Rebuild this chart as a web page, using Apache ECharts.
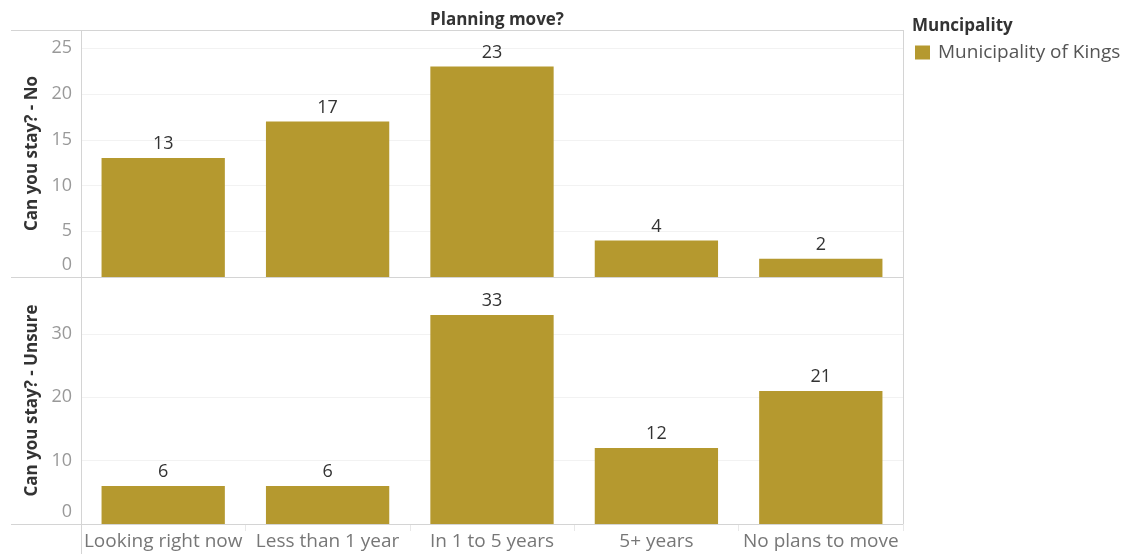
<!DOCTYPE html>
<html>
<head>
<meta charset="utf-8">
<script src="https://cdn.jsdelivr.net/npm/echarts@6/dist/echarts.min.js"></script>
<style>
html,body{margin:0;padding:0;background:#fff;}
#chart{width:1130px;height:554px;}
</style>
</head>
<body>
<div id="chart"></div>
<script>
var categories = ["Looking right now", "Less than 1 year", "In 1 to 5 years", "5+ years", "No plans to move"];
var valuesNo = [13, 17, 23, 4, 2];
var valuesUnsure = [6, 6, 33, 12, 21];
var rowNames = ["Can you stay? - No", "Can you stay? - Unsure"];
var seriesName = "Municipality of Kings";
var legendTitle = "Muncipality";
var chartTitle = "Planning move?";

var FONT = "'Open Sans', 'Noto Sans', sans-serif";
var BAR = "#b5992f";
var L = 81, R = 903, T = 30, MID = 277, B = 524;

var chart = echarts.init(document.getElementById('chart'), null, {renderer: 'canvas'});

function yAxis(idx, max, interval, name) {
  return {
    type: 'value', gridIndex: idx, min: 0, max: max, interval: interval,
    name: name, nameLocation: 'middle', nameGap: 40,
    nameTextStyle: {fontFamily: FONT, fontWeight: 'bold', fontSize: 17, color: '#333'},
    axisLine: {show: false}, axisTick: {show: false},
    axisLabel: {
      fontFamily: FONT, fontSize: 18, color: '#999', margin: 9, showMaxLabel: false,
      formatter: function (v) { return v === 0 ? '{z|0}' : String(v); },
      rich: {z: {fontFamily: FONT, fontSize: 18, color: '#999', padding: [0, 0, 24, 0]}}
    },
    splitLine: {show: true, lineStyle: {color: '#f2f2f2', width: 1}}
  };
}

chart.setOption({
  animation: false,
  textStyle: {fontFamily: FONT},
  title: [
    {text: chartTitle, left: (L + R) / 2, top: 7, textAlign: 'center',
     textStyle: {fontFamily: FONT, fontSize: 17, fontWeight: 'bold', color: '#333'}},
    {text: legendTitle, left: 907, top: 13,
     textStyle: {fontFamily: FONT, fontSize: 17, fontWeight: 'bold', color: '#333'}}
  ],
  legend: {
    left: 910, top: 38, itemWidth: 15, itemHeight: 14, itemGap: 4,
    icon: 'rect',
    textStyle: {fontFamily: FONT, fontSize: 19, color: '#555', padding: [0, 0, 0, 3]},
    data: [seriesName]
  },
  grid: [
    {left: L, top: T, width: R - L, height: MID - T, containLabel: false},
    {left: L, top: MID, width: R - L, height: B - MID, containLabel: false}
  ],
  xAxis: [
    {type: 'category', gridIndex: 0, data: categories,
     axisLine: {show: false}, axisTick: {show: false}, axisLabel: {show: false}},
    {type: 'category', gridIndex: 1, data: categories,
     axisLine: {show: false},
     axisTick: {show: true, length: 7, lineStyle: {color: '#e8e8e8'}},
     axisLabel: {fontFamily: FONT, fontSize: 19, color: '#777', margin: 8, interval: 0}}
  ],
  yAxis: [
    yAxis(0, 27, 5, rowNames[0]),
    yAxis(1, 39, 10, rowNames[1])
  ],
  series: [
    {name: seriesName, type: 'bar', xAxisIndex: 0, yAxisIndex: 0, data: valuesNo,
     barWidth: '75%', itemStyle: {color: BAR},
     label: {show: true, position: 'top', distance: 5, fontFamily: FONT, fontSize: 18, color: '#333'}},
    {name: seriesName, type: 'bar', xAxisIndex: 1, yAxisIndex: 1, data: valuesUnsure,
     barWidth: '75%', itemStyle: {color: BAR},
     label: {show: true, position: 'top', distance: 5, fontFamily: FONT, fontSize: 18, color: '#333'}}
  ],
  graphic: [
    {type: 'line', silent: true, shape: {x1: 11, y1: T + 0.5, x2: R, y2: T + 0.5}, style: {stroke: '#d4d4d4', lineWidth: 1}, z: 10},
    {type: 'line', silent: true, shape: {x1: 11, y1: MID + 0.5, x2: R, y2: MID + 0.5}, style: {stroke: '#d4d4d4', lineWidth: 1}, z: 10},
    {type: 'line', silent: true, shape: {x1: 11, y1: B + 0.5, x2: R, y2: B + 0.5}, style: {stroke: '#d4d4d4', lineWidth: 1}, z: 10},
    {type: 'line', silent: true, shape: {x1: R + 0.5, y1: T, x2: R + 0.5, y2: B}, style: {stroke: '#d4d4d4', lineWidth: 1}, z: 10},
    {type: 'line', silent: true, shape: {x1: L + 0.5, y1: T, x2: L + 0.5, y2: 554}, style: {stroke: '#d4d4d4', lineWidth: 1}, z: 10}
  ]
});
</script>
</body>
</html>
